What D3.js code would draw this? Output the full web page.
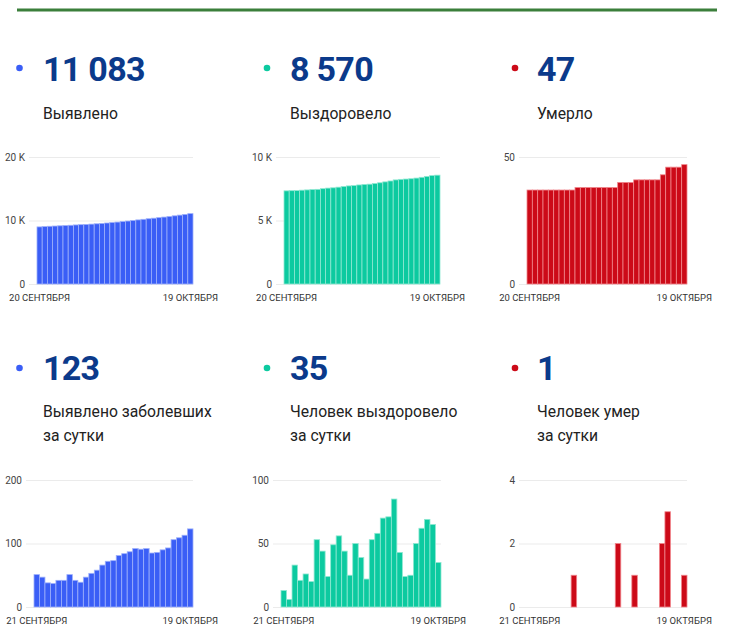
<!DOCTYPE html>
<html>
<head>
<meta charset="utf-8">
<script src="https://cdn.jsdelivr.net/npm/d3@7"></script>
<style>
body{margin:0;background:#fff;font-family:Roboto,sans-serif;}
svg{display:block;}
</style>
</head>
<body>
<script>
var width = 740;
var height = 643;

// cumulative series, 20 Sept .. 19 Oct
var totalCases = [8993,9044,9091,9129,9166,9208,9250,9301,9343,9382,9429,9482,9540,9606,9678,9751,9832,9916,10003,10095,10186,10278,10363,10449,10539,10632,10738,10847,10960,11083];
var totalRecovered = [7335,7348,7354,7387,7408,7434,7454,7507,7551,7575,7624,7680,7724,7749,7799,7838,7860,7913,7971,8041,8112,8197,8240,8264,8289,8339,8401,8470,8535,8570];
var totalDeaths = [37,37,37,37,37,37,37,37,37,38,38,38,38,38,38,38,38,40,40,40,41,41,41,41,41,43,46,46,46,47];
// daily series, 21 Sept .. 19 Oct
var dailyCases = [51,47,38,37,42,42,51,42,39,47,53,58,66,72,73,81,84,87,92,91,92,85,86,90,93,106,109,113,123];
var dailyRecovered = [13,6,33,21,26,20,53,44,24,49,56,44,25,50,39,22,53,58,70,71,85,43,24,25,50,62,69,65,35];
var dailyDeaths = [0,0,0,0,0,0,0,0,1,0,0,0,0,0,0,0,2,0,0,1,0,0,0,0,2,3,0,0,1];

var titles = [['Выявлено'],['Выздоровело'],['Умерло'],['Выявлено заболевших','за сутки'],['Человек выздоровело','за сутки'],['Человек умер','за сутки']];
var topDates = ['20 СЕНТЯБРЯ','19 ОКТЯБРЯ'];
var bottomDates = ['21 СЕНТЯБРЯ','19 ОКТЯБРЯ'];
var ticks = [[0,10000,20000],[0,5000,10000],[0,50],[0,100,200],[0,50,100],[0,2,4]];

var colors = {blue:'#3a5ef6', green:'#0ccaa0', red:'#cc0a18'};
var strokes = {blue:'#9db0fb', green:'#8fe8d2', red:'#f0868c'};

var charts = [
	{data:totalCases, color:'blue', dates:topDates, ticks:ticks[0], title:titles[0], row:0, tx:43, dot:19.5, x0:37, x1:193},
	{data:totalRecovered, color:'green', dates:topDates, ticks:ticks[1], title:titles[1], row:0, tx:290, dot:267, x0:284, x1:440},
	{data:totalDeaths, color:'red', dates:topDates, ticks:ticks[2], title:titles[2], row:0, tx:537, dot:515, x0:527, x1:687},
	{data:dailyCases, color:'blue', dates:bottomDates, ticks:ticks[3], title:titles[3], row:1, tx:43, dot:19.5, x0:34, x1:193},
	{data:dailyRecovered, color:'green', dates:bottomDates, ticks:ticks[4], title:titles[4], row:1, tx:290, dot:267, x0:281, x1:441},
	{data:dailyDeaths, color:'red', dates:bottomDates, ticks:ticks[5], title:titles[5], row:1, tx:537, dot:515, x0:527, x1:687}
];
var rows = [
	{num:81, dot:68, label:119, top:157, base:284, xlab:301},
	{num:380, dot:368, label:417, top:480, base:607, xlab:624}
];

var fmtNum = d3.formatLocale({decimal:',', thousands:'\u00a0', grouping:[3]}).format(',d');
var fmtTick = function(v){ return v>=1000 ? (v/1000)+' K' : v; };

var svg = d3.select('body').append('svg')
	.attr('width',width)
	.attr('height',height);

svg.append('rect')
	.attr('x',17).attr('y',8.5)
	.attr('width',700).attr('height',3)
	.attr('fill','#3b7f3b');

charts.forEach(function(c){
	var r = rows[c.row];
	var g = svg.append('g');

	g.append('circle')
		.attr('cx',c.dot).attr('cy',r.dot).attr('r',3.3)
		.attr('fill',colors[c.color]);
	g.append('text')
		.attr('x',c.tx).attr('y',r.num)
		.attr('font-size',34).attr('font-weight',700)
		.attr('letter-spacing',-0.7)
		.attr('fill','#0b3a8b')
		.text(fmtNum(c.data[c.data.length-1]));
	g.selectAll('.lbl').data(c.title).enter().append('text')
		.attr('x',c.tx).attr('y',(d,i)=>r.label+i*24)
		.attr('font-size',15.7).attr('fill','#222')
		.text(d=>d);

	var y = d3.scaleLinear().domain([0,d3.max(c.ticks)]).range([r.base,r.top]);
	var x = d3.scaleBand().domain(d3.range(c.data.length)).range([c.x0,c.x1]).padding(0);

	var yAxis = g.append('g')
		.attr('transform','translate('+(c.x0-8)+',0)')
		.call(d3.axisLeft(y).tickValues(c.ticks).tickFormat(fmtTick).tickSize(-(c.x1-c.x0+8)).tickPadding(4));
	yAxis.select('.domain').remove();
	yAxis.selectAll('line').attr('stroke','#ebebeb');
	yAxis.selectAll('text').attr('font-size',10).attr('fill','#444').attr('font-family','Roboto,sans-serif');

	g.selectAll('rect.bar')
		.data(c.data.map((v,i)=>({v:v,i:i})).filter(d=>d.v>0))
		.enter()
		.append('rect')
		.attr('class','bar')
		.attr('x',d=>x(d.i))
		.attr('width',x.bandwidth())
		.attr('y',d=>y(d.v))
		.attr('height',d=>r.base-y(d.v))
		.attr('fill',colors[c.color])
		.attr('stroke',strokes[c.color])
		.attr('stroke-width',0.8);

	g.selectAll('.xl').data(c.dates).enter().append('text')
		.attr('x',(d,i)=>x(i==0?0:c.data.length-1)+x.bandwidth()/2)
		.attr('y',r.xlab)
		.attr('text-anchor','middle')
		.attr('font-size',9.5).attr('fill','#333')
		.text(d=>d);
});
</script>
</body>
</html>
